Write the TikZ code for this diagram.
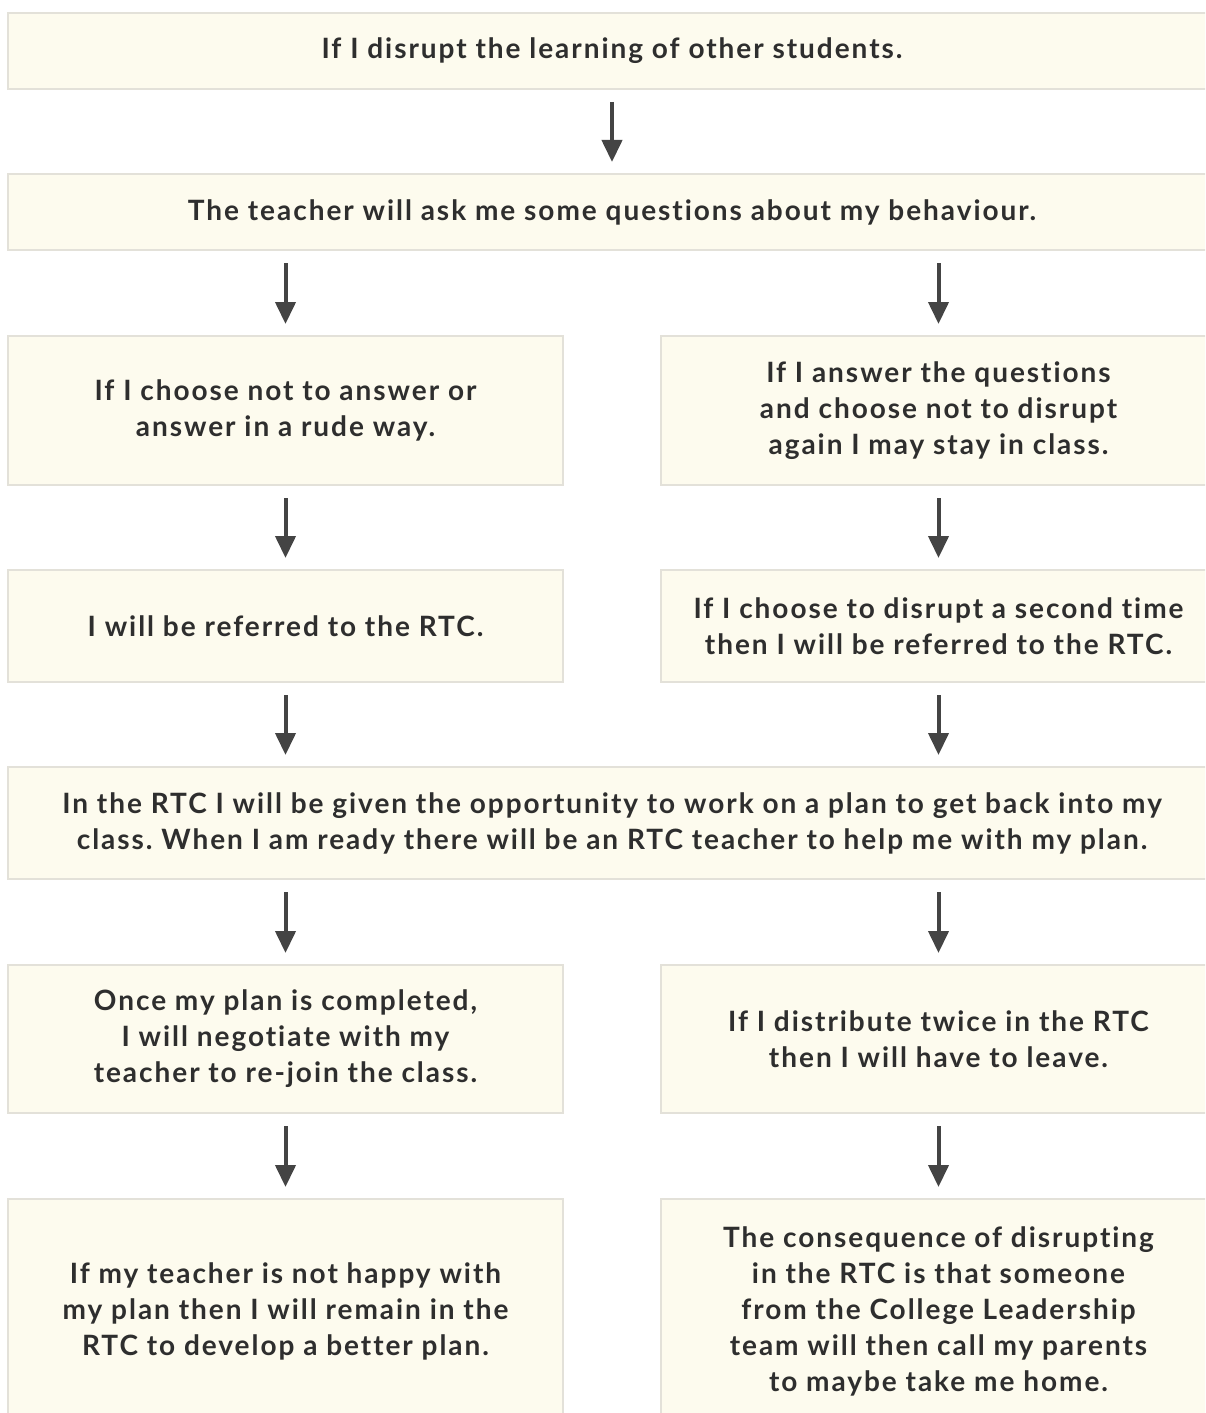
\documentclass[tikz,border=0pt]{standalone}
\usepackage{fontspec}
\setmainfont{Lato}[LetterSpace=7, Ligatures={NoCommon}]
\usetikzlibrary{arrows.meta}
\definecolor{boxfill}{HTML}{FDFBEE}
\definecolor{boxline}{HTML}{E3E1D9}
\definecolor{arr}{HTML}{444444}
\definecolor{txt}{HTML}{2E2E2E}
\frenchspacing
\begin{document}
\begin{tikzpicture}[x=0.5pt,y=-0.5pt,
 box/.style={draw=boxline, line width=1pt, fill=boxfill, text=txt,
   font=\fontsize{14}{18}\selectfont\bfseries\frenchspacing, align=center, inner sep=0pt, anchor=center},
 wide/.style={box, minimum width=604pt},
 half/.style={box, minimum width=277.5pt},
 flow/.style={draw=arr, line width=2pt, -{Triangle[width=10pt,length=11pt]}, shorten <=6pt, shorten >=5.5pt}]
\useasboundingbox (0,0) rectangle (1205,1413);
\clip (0,0) rectangle (1205,1413);
\fill[white] (0,0) rectangle (1205,1413);

\node[wide, minimum height=38pt] (b1) at (612,51) {If I disrupt the learning of other students.};
\node[wide, minimum height=38pt] (b2) at (612,212) {The teacher will ask me some questions about my behaviour.};

\node[half, minimum height=74.5pt] (l3) at (285.5,410.5) {If I choose not to answer or\\answer in a rude way.};
\node[half, minimum height=74.5pt] (r3) at (938.5,410.5) {If I answer the questions\\and choose not to disrupt\\again I may stay in class.};

\node[half, minimum height=56pt] (l4) at (285.5,626) {I will be referred to the RTC.};
\node[half, minimum height=56pt] (r4) at (938.5,626) {If I choose to disrupt a second time\\then I will be referred to the RTC.};

\node[wide, minimum height=56pt] (b5) at (612,823) {In the RTC I will be given the opportunity to work on a plan to get back into my\\class. When I am ready there will be an RTC teacher to help me with my plan.};

\node[half, minimum height=74pt] (l6) at (285.5,1039) {Once my plan is completed,\\I will negotiate with my\\teacher to re-join the class.};
\node[half, minimum height=74pt] (r6) at (938.5,1039) {If I distribute twice in the RTC\\then I will have to leave.};

\node[half, minimum height=112pt] (l7) at (285.5,1311) {If my teacher is not happy with\\my plan then I will remain in the\\RTC to develop a better plan.};
\node[half, minimum height=112pt] (r7) at (938.5,1311) {The consequence of disrupting\\in the RTC is that someone\\from the College Leadership\\team will then call my parents\\to maybe take me home.};

\draw[flow] (b1) -- (b2);
\draw[flow] (b2.south -| l3.north) -- (l3.north);
\draw[flow] (b2.south -| r3.north) -- (r3.north);
\draw[flow] (l3) -- (l4);
\draw[flow] (r3) -- (r4);
\draw[flow] (l4.south) -- (b5.north -| l4.south);
\draw[flow] (r4.south) -- (b5.north -| r4.south);
\draw[flow] (b5.south -| l6.north) -- (l6.north);
\draw[flow] (b5.south -| r6.north) -- (r6.north);
\draw[flow] (l6) -- (l7);
\draw[flow] (r6) -- (r7);
\end{tikzpicture}
\end{document}
